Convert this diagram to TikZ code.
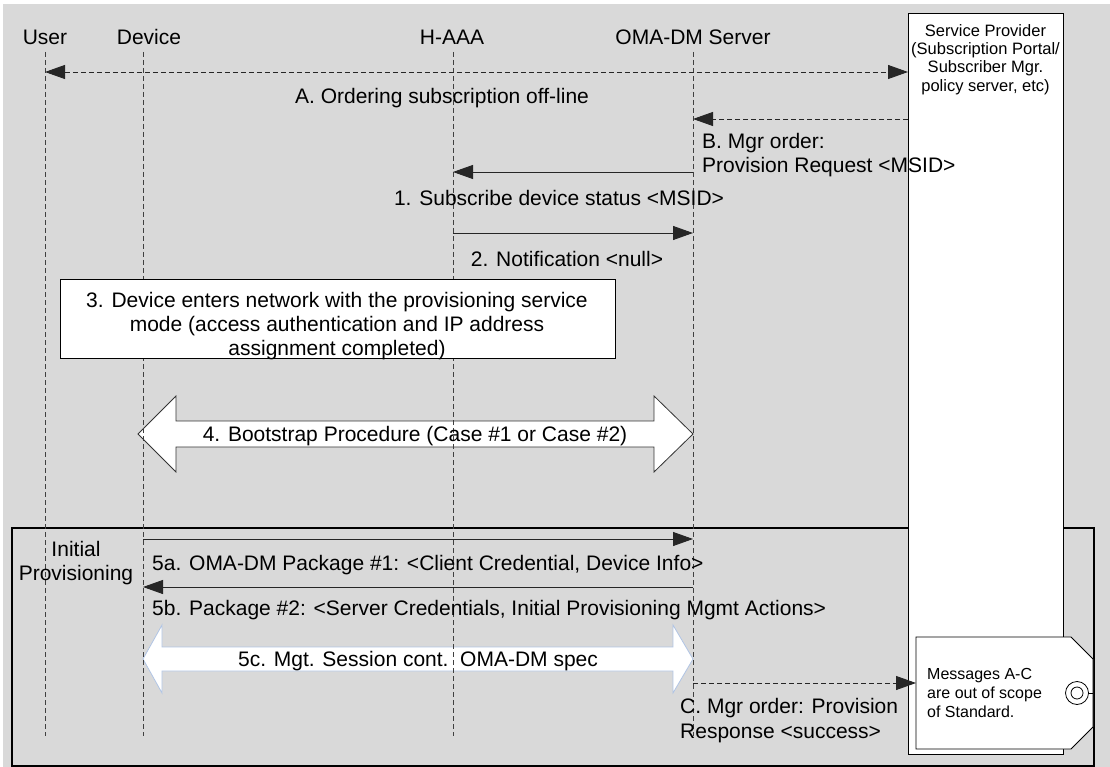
\documentclass[tikz,border=0pt]{standalone}
\usepackage{fontspec}
\setmainfont{Liberation Sans}
\usetikzlibrary{arrows.meta}
\definecolor{bggray}{RGB}{217,217,217}
\definecolor{edgeblue}{RGB}{176,196,228}
\begin{document}
\begin{tikzpicture}[x=1pt,y=-1pt,
  lbl/.style={font=\fontsize{21}{24}\selectfont, inner sep=0pt},
  smalllbl/.style={font=\fontsize{16.5}{18}\selectfont, inner sep=0pt},
  notelbl/.style={font=\fontsize{16}{19}\selectfont, inner sep=0pt},
  life/.style={draw=black!75, dash pattern=on 5pt off 3pt, line width=0.8pt},
  tipA/.tip={Triangle[length=20pt,width=14pt]},
  msg/.style={draw=black!85, line width=0.9pt, -tipA},
  dmsg/.style={msg, dash pattern=on 5pt off 3pt},
  boxed/.style={draw=black, line width=1pt, fill=white},
  bigarrow/.style={draw=black!80, line width=0.8pt, fill=white},
  bluearrow/.style={draw=edgeblue, line width=0.8pt, fill=white}]
\path[use as bounding box] (0,0) rectangle (1110,767);
\fill[bggray] (3,4) rectangle (1110,767);

% outer frame
\draw[line width=1.5pt] (12,528) rectangle (1094,766);

% service provider box
\draw[boxed, line width=0.8pt] (908,13) rectangle (1063,754);
\node[smalllbl, anchor=base] (sp1) at (985.5,37) {Service Provider};
\node[smalllbl, anchor=base] (sp2) at (985.5,55) {(Subscription Portal/};
\node[smalllbl, anchor=base] (sp3) at (985.5,73) {Subscriber Mgr.};
\node[smalllbl, anchor=base] (sp4) at (985.5,92) {policy server, etc)};

% big arrows
\draw[bigarrow] (138,434) -- (176,396) -- (176,421) -- (654,421) -- (654,396)
  -- (693,434) -- (654,472) -- (654,447) -- (176,447) -- (176,472) -- cycle;
\draw[bluearrow] (143,659) -- (162,625) -- (162,647) -- (673,647) -- (673,625)
  -- (693,659) -- (673,693) -- (673,671) -- (162,671) -- (162,693) -- cycle;

% lifelines
\coordinate (uTop) at (45,52);   \coordinate (uBot) at (45,736);
\coordinate (dTop) at (143,52);  \coordinate (dBot) at (143,736);
\coordinate (hTop) at (453,52);  \coordinate (hBot) at (453,736);
\coordinate (oTop) at (693,52);  \coordinate (oBot) at (693,736);
\draw[life] (uTop) -- (uBot);
\draw[life] (dTop) -- (dBot);
\draw[life] (hTop) -- (hBot);
\draw[life] (oTop) -- (oBot);

% headers
\node[lbl, anchor=base] (hUser) at (45,45) {User};
\node[lbl, anchor=base] (hDev) at (149,45) {Device};
\node[lbl, anchor=base] (hAAA) at (452,45) {H-AAA};
\node[lbl, anchor=base] (hOMA) at (693,45) {OMA-DM Server};

% box 3
\node[boxed, minimum width=555pt, minimum height=79pt, inner sep=0pt] (box3) at (337.5,318.5) {};
\node[lbl, anchor=base] (b3a) at (337,307) {3. Device enters network with the provisioning service};
\node[lbl, anchor=base] (b3b) at (337,331) {mode (access authentication and IP address};
\node[lbl, anchor=base] (b3c) at (337,355) {assignment completed)};

% message end points
\coordinate (aL) at (45,72);   \coordinate (aR) at (908,72);
\coordinate (bS) at (908,119); \coordinate (bO) at (693,119);
\coordinate (m1O) at (693,172); \coordinate (m1H) at (453,172);
\coordinate (m2H) at (453,233); \coordinate (m2O) at (693,233);
\coordinate (m5aD) at (143,539); \coordinate (m5aO) at (693,539);
\coordinate (m5bO) at (693,587); \coordinate (m5bD) at (143,587);
\coordinate (cO) at (693,683);

% note
\draw[boxed, line width=0.8pt] (916,637) -- (1071,637) -- (1093,659) -- (1093,727)
  -- (1071,749) -- (916,749) -- cycle;
\coordinate (nL) at (916,683);
\node[draw, circle, line width=0.8pt, minimum size=23pt, inner sep=0pt] (ring) at (1077,693) {};
\node[draw, circle, line width=0.8pt, minimum size=12pt, inner sep=0pt] (ringin) at (1077,693) {};
\coordinate (nR) at (1093,693);
\draw[line width=0.8pt] (ring.east) -- (nR);
\node[notelbl, anchor=base west] (n1) at (927,679) {Messages A-C};
\node[notelbl, anchor=base west] (n2) at (927,698) {are out of scope};
\node[notelbl, anchor=base west] (n3) at (927,717) {of Standard.};

% messages
\draw[dmsg, tipA-tipA] (aL) -- (aR);
\draw[dmsg] (bS) -- (bO);
\draw[msg] (m1O) -- (m1H);
\draw[msg] (m2H) -- (m2O);
\draw[msg] (m5aD) -- (m5aO);
\draw[msg] (m5bO) -- (m5bD);
\draw[dmsg] (cO) -- (nL);

% labels
\node[lbl, anchor=base] (tA) at (442,104) {A. Ordering subscription off-line};
\node[lbl, anchor=base west] (tB1) at (702,149) {B. Mgr order:};
\node[lbl, anchor=base west] (tB2) at (702,173) {Provision Request <MSID>};
\node[lbl, anchor=base] (t1) at (559,206) {1. Subscribe device status <MSID>};
\node[lbl, anchor=base] (t2) at (567,266) {2. Notification <null>};
\node[lbl, anchor=base] (t4) at (415,441) {4. Bootstrap Procedure (Case \#1 or Case \#2)};
\node[lbl, anchor=base] (tIP1) at (76,556) {Initial};
\node[lbl, anchor=base] (tIP2) at (76,580) {Provisioning};
\node[lbl, anchor=base west] (t5a) at (152,570) {5a. OMA-DM Package \#1: <Client Credential, Device Info>};
\node[lbl, anchor=base west] (t5b) at (152,615) {5b. Package \#2: <Server Credentials, Initial Provisioning Mgmt Actions>};
\node[lbl, anchor=base] (t5c) at (418,666) {5c. Mgt. Session cont.\ \ OMA-DM spec};
\node[lbl, anchor=base west] (tC1) at (680,713) {C. Mgr order: Provision};
\node[lbl, anchor=base west] (tC2) at (680,738) {Response <success>};
\end{tikzpicture}
\end{document}
